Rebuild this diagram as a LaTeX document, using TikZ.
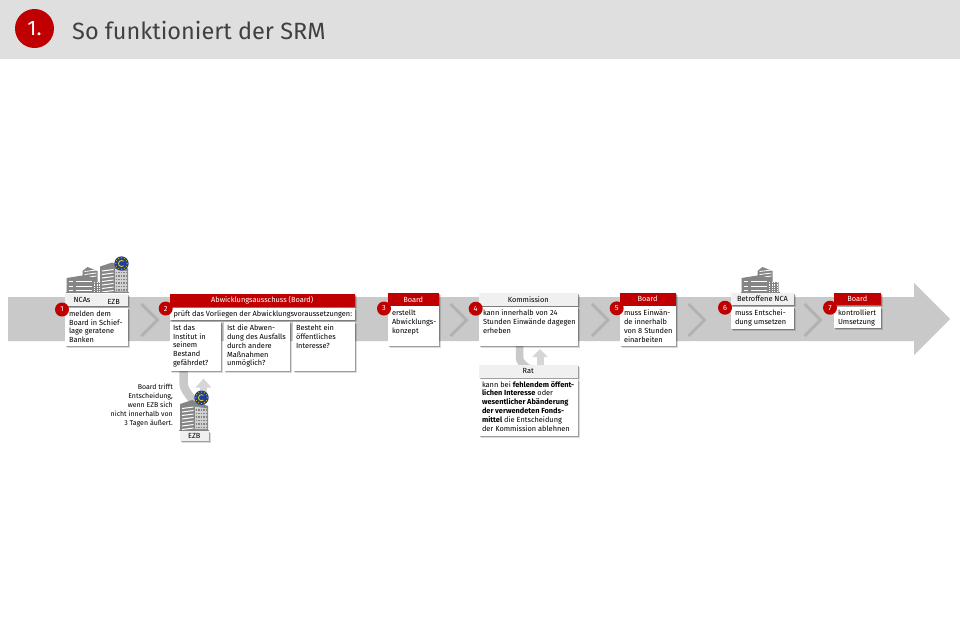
\documentclass[tikz,border=0pt]{standalone}
\usepackage{fontspec}
\setmainfont{Fira Sans}
\usetikzlibrary{calc,arrows.meta}
\pgfdeclarelayer{pagebg}
\pgfdeclarelayer{feeds}
\pgfsetlayers{pagebg,feeds,main}
\definecolor{srmred}{HTML}{C00000}
\definecolor{band}{HTML}{C9C9C9}
\definecolor{chev}{HTML}{B2B2B2}
\definecolor{head}{HTML}{DFDFDF}
\definecolor{upcol}{HTML}{D6D6D6}
\definecolor{light}{HTML}{F0F0F0}
\definecolor{bldg}{HTML}{858585}
\definecolor{ttl}{HTML}{404040}
\definecolor{euro}{HTML}{1F3F94}
\definecolor{star}{HTML}{F2D21B}
\tikzset{
  x=1pt,y=-1pt,
  card/.style={rectangle,inner sep=0pt,outer sep=0pt,anchor=north west},
  whitebox/.style={card,fill=white},
  redhead/.style={card,fill=srmred,text=white,font=\fontsize{7.4}{9}\selectfont},
  lighthead/.style={card,fill=light,text=black,font=\fontsize{7.4}{9}\selectfont},
  numdot/.style={circle,fill=srmred,text=white,minimum size=14pt,inner sep=0pt,
    font=\fontsize{7.4}{9}\selectfont},
  chevron/.style={draw=chev,line width=3pt,miter limit=10},
  feed/.style={draw=band,line width=8.5pt},
  upfeed/.style={draw=upcol,line width=7pt,-{Triangle[width=15pt,length=9pt]}},
}
\newcommand{\cardshadow}[4]{%
  \fill[black,opacity=.14] (#1+2,#2+2) rectangle ++(#3,#4);
  \fill[black,opacity=.28] (#1+1,#2+1) rectangle ++(#3,#4);}
\newcommand{\bodytext}[6]{% name x y w h text
  \cardshadow{#2}{#3}{#4}{#5}
  \node[whitebox,minimum width=#4pt,minimum height=#5pt] (#1) at (#2,#3)
    {\parbox[c][#5pt][t]{#4pt}{\fontsize{7.4}{8.85}\selectfont\raggedright\vspace*{3.2pt}#6}};}
\newcommand{\headbox}[7]{% style name x y w h text
  \cardshadow{#3}{#4}{#5}{#6}
  \node[#1,minimum width=#5pt,minimum height=#6pt] (#2) at (#3,#4) {#7};}
\newcommand{\chevat}[1]{\draw[chevron] (#1,304) -- (#1+16,320) -- (#1,336);}
\newcommand{\eurosign}[3]{% centre x y, radius
  \fill[euro] (#1,#2) circle[radius=#3];
  \foreach \a in {0,30,...,330}
    \fill[star] ($(#1,#2)+(\a:#3*0.78)$) circle[radius=0.55];
  \draw[star,line width=0.8pt] ($(#1,#2)+(50:#3*0.42)$) arc[start angle=50,end angle=310,radius=#3*0.42];
}
\newcommand{\towerbldg}[2]{% base-left x, base y : 28 wide, 30 high
  \begin{scope}[shift={(#1,#2)}]
    \fill[bldg] (0,0) -- (0,-26) -- (12,-30) -- (28,-24) -- (28,0) -- cycle;
    \fill[white!62!bldg] (15,-23.5) -- (27,-21.5) -- (27,-1) -- (15,-1) -- cycle;
    \foreach \yy in {-23,-19.5,-16,-12.5,-9,-5.5,-2}
      \draw[white,line width=1pt] (2,\yy+1.5) -- (13.5,\yy);
    \foreach \yy in {-20,-16.5,-13,-9.5,-6,-2.5}
      \draw[bldg,line width=1.3pt,dash pattern=on 1.6pt off 0.9pt] (15.5,\yy) -- (27,\yy);
    \draw[bldg,line width=1pt] (-1,0) -- (29,0);
  \end{scope}}
\newcommand{\blockbldg}[2]{% base-left x, base y : 37 wide, 25 high
  \begin{scope}[shift={(#1,#2)}]
    \fill[bldg] (16,-14) -- (16,-21) -- (21,-25) -- (31,-21) -- (31,-10) -- (37,-10) -- (37,0) -- (16,0) -- cycle;
    \foreach \yy in {-22,-19,-16}
      \draw[white,line width=0.8pt] (18,\yy+1.5) -- (30,\yy);
    \foreach \xx in {28,30.5,33,35.5}
      \draw[white,line width=0.8pt,dash pattern=on 1.3pt off 1pt] (\xx,-10) -- (\xx,0);
    \fill[bldg] (0,-14) -- (19,-17) -- (26,-14.5) -- (26,0) -- (0,0) -- cycle;
    \foreach \yy in {-10.5,-6,-2}
      \draw[white,line width=1pt] (9,\yy) -- (25,\yy);
    \foreach \yy in {-10.5,-6,-2}
      \draw[white,line width=0.9pt] (2,\yy) -- (6.5,\yy);
    \draw[bldg,line width=1pt] (-1,0) -- (38,0);
  \end{scope}}
\begin{document}
\begin{tikzpicture}
\useasboundingbox (0,0) rectangle (960,630);
\begin{pgfonlayer}{pagebg}
\fill[white] (0,0) rectangle (960,630);
\end{pgfonlayer}
% title bar
\fill[head] (0,0) rectangle (960,59);
\node[circle,fill=srmred,text=white,minimum size=39pt,inner sep=0pt,
  font=\fontsize{21}{24}\selectfont] (titlenum) at (34.5,28.5) {1.};
\node[anchor=west,inner sep=0pt,text=ttl,font=\fontsize{23.5}{28}\selectfont] (titletext) at (72,30) {So funktioniert der SRM};
% main arrow
\fill[band] (8,297) -- (914,297) -- (914,283) -- (950,319) -- (914,355) -- (914,341) -- (8,341) -- cycle;
% chevrons
\chevat{141.5}
\chevat{450.5}
\chevat{592}
\chevat{688.5}
\chevat{804.5}
% buildings box 1
\blockbldg{66.5}{292}
\towerbldg{100}{292.5}
\eurosign{121.5}{263.5}{7.2}
% box 1
\headbox{lighthead}{h1}{64.5}{293.5}{63.5}{12.5}{}
\node[inner sep=0pt,font=\fontsize{7.4}{9}\selectfont] (h1a) at (82,300) {NCAs};
\node[inner sep=0pt,font=\fontsize{7.4}{9}\selectfont] (h1b) at (113.7,301.5) {EZB};
\bodytext{b1}{64.5}{307.5}{63.5}{38.5}{\hspace*{4.5pt}\parbox[t]{58pt}{melden dem\\Board in Schief-\\lage geratene\\Banken}}
\node[numdot] (n1) at (62,309.5) {1};
% box 2
\headbox{redhead}{h2}{169.5}{293.5}{185.5}{13}{Abwicklungsausschuss (Board)}
\bodytext{b2}{169.5}{307.5}{185.5}{12.5}{\hspace*{4pt}\parbox[t]{180pt}{prüft das Vorliegen der Abwicklungsvoraussetzungen:}}
\bodytext{q1}{169.5}{321.5}{51.5}{49}{\hspace*{3.5pt}\parbox[t]{46pt}{Ist das\\Institut in\\seinem\\Bestand\\gefährdet?}}
\bodytext{q2}{223.5}{321.5}{66.5}{49}{\hspace*{3.5pt}\parbox[t]{61pt}{Ist die Abwen-\\dung des Ausfalls\\durch andere\\Maßnahmen\\unmöglich?}}
\bodytext{q3}{293}{321.5}{62}{49}{\hspace*{3pt}\parbox[t]{57pt}{Besteht ein\\öffentliches\\Interesse?}}
\node[numdot] (n2) at (165.7,308.5) {2};
\towerbldg{180}{430}
\eurosign{201.5}{397.7}{7.2}
\headbox{lighthead}{ezb2}{179.5}{430.5}{29.5}{10.5}{EZB}
\begin{pgfonlayer}{feeds}
\draw[feed] ($(q1.south west)+(14,-1)$) -- ++(0,14) .. controls +(0,9) and +(3,11) .. ($(ezb2.north west)+(21,-29)$);
\draw[upfeed] ($(ezb2.north west)+(24,-34)$) -- ($(q1.south west)+(34,8)$);
\end{pgfonlayer}
\node[anchor=north east,inner sep=0pt,align=right,font=\fontsize{7}{8.9}\selectfont] (note) at (173,384)
  {Board trifft\\Entscheidung,\\wenn EZB sich\\nicht innerhalb von\\3 Tagen äußert.};
% box 3
\headbox{redhead}{h3}{387.5}{293}{51.5}{13}{Board}
\bodytext{b3}{387.5}{306}{51.5}{39.5}{\vspace*{0.8pt}\hspace*{4.5pt}\parbox[t]{46pt}{erstellt\\Abwicklungs-\\konzept}}
\node[numdot] (n3) at (384,308.5) {3};
% box 4
\headbox{lighthead}{h4}{479}{293}{98.5}{13}{Kommission}
\bodytext{b4}{479}{307}{98.5}{39}{\hspace*{4pt}\parbox[t]{93pt}{kann innerhalb von 24\\Stunden Einwände dagegen\\erheben}}
\node[numdot] (n4) at (475.7,308.7) {4};
% Rat
\headbox{lighthead}{h4r}{479}{364.5}{98.5}{13}{Rat}
\bodytext{b4r}{479}{379}{98.5}{56.5}{\vspace*{-1pt}\hspace*{3pt}\parbox[t]{94pt}{kann bei \textbf{fehlendem öffent-}\\\textbf{lichen Interesse} oder\\\textbf{wesentlicher Abänderung}\\\textbf{der verwendeten Fonds-}\\\textbf{mittel} die Entscheidung\\der Kommission ablehnen}}
\begin{pgfonlayer}{feeds}
\draw[draw=band,line width=7.5pt] ($(b4.south west)+(40.5,-1)$) -- ++(0,13) .. controls +(0,5) and +(3,7) .. ($(h4r.north west)+(50,1)$);
\draw[draw=upcol,line width=7pt,-{Triangle[width=15pt,length=8pt]}] ($(h4r.north west)+(61,1)$) -- ($(b4.south west)+(61,3)$);
\end{pgfonlayer}
% box 5
\headbox{redhead}{h5}{619.5}{292.5}{56}{13}{Board}
\bodytext{b5}{619.5}{305.5}{56}{40}{\vspace*{1.5pt}\hspace*{4.5pt}\parbox[t]{51pt}{muss Einwän-\\de innerhalb\\von 8 Stunden\\einarbeiten}}
\node[numdot] (n5) at (616.7,308.3) {5};
% box 6
\blockbldg{741.5}{292}
\headbox{lighthead}{h6}{731}{292.5}{63}{12.5}{Betroffene NCA}
\bodytext{b6}{731}{307}{63}{21.5}{\hspace*{4pt}\parbox[t]{58pt}{muss Entschei-\\dung umsetzen}}
\node[numdot] (n6) at (725,307.7) {6};
% box 7
\headbox{redhead}{h7}{833.5}{292.5}{47.5}{12.5}{Board}
\bodytext{b7}{833.5}{307}{47.5}{20.5}{\hspace*{4.5pt}\parbox[t]{42pt}{kontrolliert\\Umsetzung}}
\node[numdot] (n7) at (830,307.7) {7};
\end{tikzpicture}
\end{document}
